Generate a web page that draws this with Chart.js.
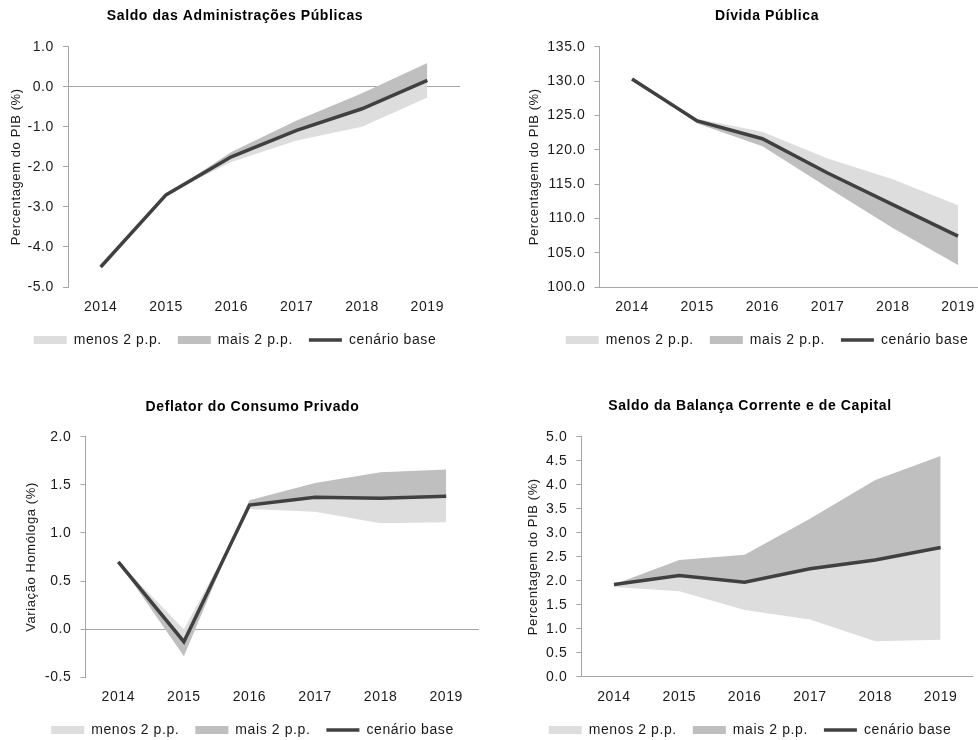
<!DOCTYPE html>
<html lang="pt">
<head>
<meta charset="utf-8">
<title>Análise de sensibilidade</title>
<script src="https://cdn.jsdelivr.net/npm/chart.js@4.4.1/dist/chart.umd.min.js"></script>
<style>
  html, body { margin: 0; padding: 0; background: #fff; overflow: hidden; }
  body { position: relative; width: 978px; height: 740px; }
  .painel { position: absolute; }
</style>
</head>
<body>
<div class="painel" style="left:9px;top:0;width:452px;height:370px"><canvas id="saldo"></canvas></div>
<div class="painel" style="left:527px;top:0;width:480px;height:370px"><canvas id="divida"></canvas></div>
<div class="painel" style="left:24px;top:370px;width:457px;height:380px"><canvas id="deflator"></canvas></div>
<div class="painel" style="left:526px;top:370px;width:448px;height:380px"><canvas id="balanca"></canvas></div>

<script>
const years = ['2014', '2015', '2016', '2017', '2018', '2019'];

// Saldo das Administrações Públicas (% PIB)
const saldoBase  = [-4.5, -2.7, -1.75, -1.09, -0.55, 0.16];
const saldoMenos = [-4.5, -2.7, -1.88, -1.34, -1.0, -0.27];
const saldoMais  = [-4.5, -2.7, -1.63, -0.84, -0.16, 0.59];

// Dívida Pública (% PIB)
const dividaBase  = [130.3, 124.2, 121.6, 116.6, 112.0, 107.4];
const dividaMenos = [130.3, 124.5, 122.6, 118.7, 115.7, 111.9];
const dividaMais  = [130.3, 123.8, 120.5, 114.5, 108.6, 103.2];

// Deflator do Consumo Privado (variação homóloga, %)
const deflatorBase  = [0.70, -0.13, 1.29, 1.37, 1.36, 1.38];
const deflatorMenos = [0.70, 0.0, 1.25, 1.22, 1.10, 1.11];
const deflatorMais  = [0.70, -0.28, 1.34, 1.52, 1.63, 1.66];

// Saldo da Balança Corrente e de Capital (% PIB)
const balancaBase  = [1.92, 2.11, 1.97, 2.25, 2.43, 2.69];
const balancaMenos = [1.87, 1.78, 1.39, 1.19, 0.74, 0.77];
const balancaMais  = [1.92, 2.43, 2.54, 3.29, 4.10, 4.60];

const LIGHT = '#dddddd';
const DARK = '#bfbfbf';
const BASE = '#404040';
const AXIS = '#a6a6a6';
const TEXT = '#1a1a1a';

Chart.defaults.font.family = "'Liberation Sans', Arial, sans-serif";
Chart.defaults.color = TEXT;
Chart.defaults.animation = false;

// slightly looser text, the way the spreadsheet renders it
const spacing = {
  id: 'spacing',
  beforeUpdate(chart) { chart.ctx.letterSpacing = '0.6px'; },
  beforeDraw(chart) { chart.ctx.letterSpacing = '0.6px'; }
};

function painel(id, cfg) {
  const box = cfg.box;
  new Chart(document.getElementById(id), {
    type: 'line',
    data: {
      labels: years,
      datasets: [
        { label: 'menos 2 p.p.', data: cfg.menos, backgroundColor: LIGHT, borderColor: 'transparent',
          borderWidth: 0, fill: 2, pointRadius: 0, pointStyle: 'rect', tension: 0 },
        { label: 'mais 2 p.p.', data: cfg.mais, backgroundColor: DARK, borderColor: 'transparent',
          borderWidth: 0, fill: 2, pointRadius: 0, pointStyle: 'rect', tension: 0 },
        { label: 'cenário base', data: cfg.base, borderColor: BASE, backgroundColor: BASE,
          borderWidth: 3.5, fill: false, pointRadius: 0, pointStyle: 'line', tension: 0 }
      ]
    },
    options: {
      responsive: true,
      maintainAspectRatio: false,
      events: [],
      layout: { padding: { left: 0, right: 0, top: 0, bottom: box.padB } },
      scales: {
        x: {
          offset: true,
          grid: { display: false },
          border: { display: false },
          ticks: { padding: box.xPad, font: { size: 14 }, maxRotation: 0 },
          afterFit: s => { s.height = box.xH; }
        },
        y: {
          min: cfg.min,
          max: cfg.max,
          ticks: { stepSize: cfg.step, padding: 9, font: { size: 14 }, callback: v => v.toFixed(1) },
          grid: {
            color: c => Math.abs(c.tick.value - cfg.cross) < 1e-9 ? AXIS : 'transparent',
            tickColor: AXIS,
            tickLength: 5
          },
          border: { display: true, color: AXIS },
          title: { display: true, text: cfg.yTitle, font: { size: 13 }, padding: { top: 0, bottom: 0 } },
          afterFit: s => { s.width = box.yW; }
        },
        folga: {
          type: 'linear',
          position: 'right',
          grid: { display: false },
          border: { display: false },
          ticks: { display: false },
          afterFit: s => { s.width = box.rightW; }
        }
      },
      plugins: {
        filler: { drawTime: 'beforeDatasetsDraw' },
        tooltip: { enabled: false },
        title: {
          display: true,
          text: cfg.title,
          color: '#000',
          font: { size: 14, weight: 'bold' },
          padding: { top: box.tTop, bottom: box.tBot }
        },
        legend: {
          position: 'bottom',
          labels: {
            usePointStyle: true,
            pointStyleWidth: 33,
            boxHeight: 8,
            padding: 16,
            font: { size: 14 },
            color: TEXT
          }
        }
      }
    },
    plugins: [spacing]
  });
}

painel('saldo', {
  title: 'Saldo das Administrações Públicas',
  yTitle: 'Percentagem do PIB (%)',
  base: saldoBase, menos: saldoMenos, mais: saldoMais,
  min: -5, max: 1, step: 1, cross: 0,
  box: { yW: 59, rightW: 1, tTop: 7.6, tBot: 22.3, xH: 30, xPad: 4, padB: 13 }
});

painel('divida', {
  title: 'Dívida Pública',
  yTitle: 'Percentagem do PIB (%)',
  base: dividaBase, menos: dividaMenos, mais: dividaMais,
  min: 100, max: 135, step: 5, cross: 100,
  box: { yW: 72.4, rightW: 16.4, tTop: 7.6, tBot: 22.3, xH: 30, xPad: 4, padB: 13 }
});

painel('deflator', {
  title: 'Deflator do Consumo Privado',
  yTitle: 'Variação Homóloga (%)',
  base: deflatorBase, menos: deflatorMenos, mais: deflatorMais,
  min: -0.5, max: 2, step: 0.5, cross: 0,
  box: { yW: 61.5, rightW: 2, tTop: 28.3, tBot: 21.6, xH: 29.7, xPad: 3.8, padB: 3 }
});

painel('balanca', {
  title: 'Saldo da Balança Corrente e de Capital',
  yTitle: 'Percentagem do PIB (%)',
  base: balancaBase, menos: balancaMenos, mais: balancaMais,
  min: 0, max: 5, step: 0.5, cross: 0,
  box: { yW: 55.3, rightW: 0.7, tTop: 27.6, tBot: 22.3, xH: 30.3, xPad: 4.4, padB: 3 }
});
</script>
</body>
</html>
